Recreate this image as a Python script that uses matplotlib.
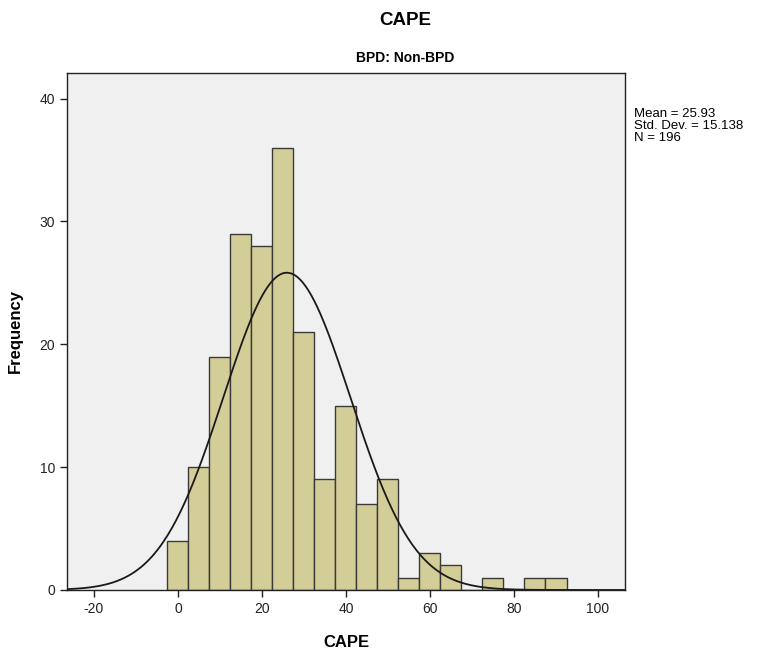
import numpy as np
import matplotlib.pyplot as plt

plt.rcParams['font.family'] = ['Liberation Sans', 'DejaVu Sans']
plt.rcParams['axes.unicode_minus'] = False

# Histogram data (bins of width 5, centred at 0, 5, ..., 90)
bin_centers = [0, 5, 10, 15, 20, 25, 30, 35, 40, 45, 50, 55, 60, 65, 70, 75, 80, 85, 90]
counts = [4, 10, 19, 29, 28, 36, 21, 9, 15, 7, 9, 1, 3, 2, 0, 1, 0, 1, 1]
bin_width = 5
mean_val = 25.93
std_val = 15.138
n_val = 196

fig = plt.figure(figsize=(7.58, 6.53), dpi=100)
ax = fig.add_axes([0.0884, 0.0965, 0.736, 0.792])
ax.set_facecolor('#f0f0f0')

ax.bar(bin_centers, counts, width=bin_width, color='#d3ce97', edgecolor='#3a3a3a', linewidth=1.0)

# Normal curve scaled to frequency
xs = np.linspace(-26.4, 106.4, 400)
ys = n_val * bin_width / (std_val * np.sqrt(2 * np.pi)) * np.exp(-0.5 * ((xs - mean_val) / std_val) ** 2)
ax.plot(xs, ys, color='#1a1a1a', linewidth=1.3)

ax.set_xlim(-26.4, 106.4)
ax.set_ylim(0, 42.1)
ax.set_xticks([-20, 0, 20, 40, 60, 80, 100])
ax.set_yticks([0, 10, 20, 30, 40])
ax.tick_params(direction='out', length=5, width=1, labelsize=10, colors='#222222')
for s in ax.spines.values():
    s.set_color('#222222')
    s.set_linewidth(1)

ax.set_xlabel('CAPE', fontsize=12, fontweight='bold', labelpad=14)
ax.set_ylabel('Frequency', fontsize=12, fontweight='bold', labelpad=12)

fig.text(0.534, 0.968, 'CAPE', ha='center', va='center', fontsize=13.5, fontweight='bold')
fig.text(0.534, 0.911, 'BPD: Non-BPD', ha='center', va='center', fontsize=10, fontweight='bold')

fig.text(0.836, 0.835, f'Mean = {mean_val}\nStd. Dev. = {std_val}\nN = {n_val}',
         ha='left', va='top', fontsize=9.5, linespacing=1.0)

plt.savefig('out.png', dpi=100)
